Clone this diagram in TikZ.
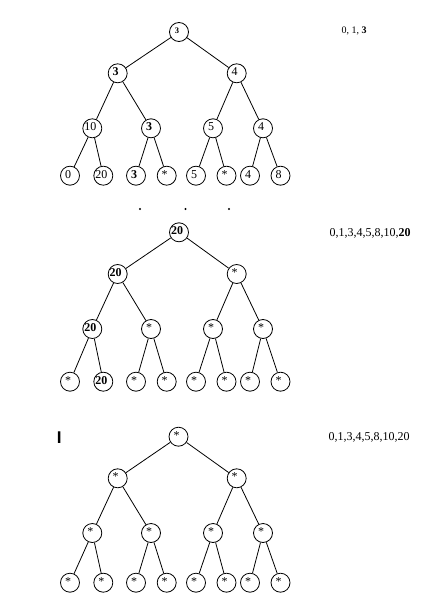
\documentclass[tikz,border=0pt]{standalone}
\usepackage{fontspec}
\setmainfont{Liberation Serif}
\setsansfont{Liberation Sans}
\tikzset{
  vtx/.style={circle,draw,line width=0.8,minimum size=19,inner sep=0pt},
  lbl/.style={xshift=-2,yshift=1.5,inner sep=0pt,font=\fontsize{12}{13}\selectfont},
  edge/.style={line width=0.8},
  seq/.style={font=\fontsize{12}{14}\selectfont}
}
\begin{document}
\begin{tikzpicture}[x=1pt,y=-1pt]
    \useasboundingbox (0,0) rectangle (432,599);
    % first tree
    \node[vtx,label={[lbl,font=\fontsize{8.5}{9}\selectfont]center:\textbf{3}}] (ar) at (179,32) {};
    \node[vtx,label={[lbl]center:\textbf{3}}] (al) at (117.7,73.3) {};
    \node[vtx,label={[lbl]center:4}] (am) at (236.7,73.3) {};
    \foreach \x/\t [count=\i] in {92.3/10,151/\textbf{3},213/5,263/4}
    \node[vtx,label={[lbl]center:\t}] (b\i) at (\x,128.3) {};
    \foreach \x/\t [count=\i] in {70/0,103.3/20,136/\textbf{3},166.7/*,196/5,226.5/*,250/4,280.5/8}
    \node[vtx,label={[lbl]center:\t}] (c\i) at (\x,175.7) {};
    \foreach \p/\q in {ar/al,ar/am,al/b1,al/b2,am/b3,am/b4,b1/c1,b1/c2,b2/c3,b2/c4,b3/c5,b3/c6,b4/c7,b4/c8}
    \draw[edge] (\p) -- (\q);
    \node[font=\fontsize{10}{12}\selectfont] (sa) at (354,31) {0, 1, \textbf{3}};
    \foreach \x in {140,185.5,229}
    \fill (\x,209) circle (1.1);
    % second tree
    \node[vtx,label={[lbl]center:\textbf{20}}] (dr) at (179,232.3) {};
    \node[vtx,label={[lbl]center:\textbf{20}}] (dl) at (117.7,274) {};
    \node[vtx,label={[lbl]center:*}] (dm) at (236.7,274) {};
    \foreach \x/\t [count=\i] in {92.3/\textbf{20},151/*,213/*,263/*}
    \node[vtx,label={[lbl]center:\t}] (e\i) at (\x,329) {};
    \foreach \x/\t [count=\i] in {70/*,103.3/\textbf{20},136/*,166.7/*,196/*,226.5/*,250/*,280.5/*}
    \node[vtx,label={[lbl]center:\t}] (f\i) at (\x,381.7) {};
    \foreach \p/\q in {dr/dl,dr/dm,dl/e1,dl/e2,dm/e3,dm/e4,e1/f1,e1/f2,e2/f3,e2/f4,e3/f5,e3/f6,e4/f7,e4/f8}
    \draw[edge] (\p) -- (\q);
    \node[seq] (sb) at (370,233) {0,1,3,4,5,8,10,\textbf{20}};
    % third tree
    \node[vtx,label={[lbl]center:*}] (gr) at (178.5,436.7) {};
    \node[vtx,label={[lbl]center:*}] (gl) at (117.7,478.3) {};
    \node[vtx,label={[lbl]center:*}] (gm) at (236.7,478.3) {};
    \foreach \x/\t [count=\i] in {92.3/*,151/*,213/*,263/*}
    \node[vtx,label={[lbl]center:\t}] (h\i) at (\x,533) {};
    \foreach \x/\t [count=\i] in {70/*,103.3/*,136/*,166.7/*,196/*,226.5/*,250/*,280.5/*}
    \node[vtx,label={[lbl]center:\t}] (k\i) at (\x,582.7) {};
    \foreach \p/\q in {gr/gl,gr/gm,gl/h1,gl/h2,gm/h3,gm/h4,h1/k1,h1/k2,h2/k3,h2/k4,h3/k5,h3/k6,h4/k7,h4/k8}
    \draw[edge] (\p) -- (\q);
    \node[seq] (sc) at (369,437) {0,1,3,4,5,8,10,20};
    \node[font=\fontsize{17}{18}\selectfont\sffamily\bfseries] (cur) at (59.3,437.5) {I};
\end{tikzpicture}
\end{document}
